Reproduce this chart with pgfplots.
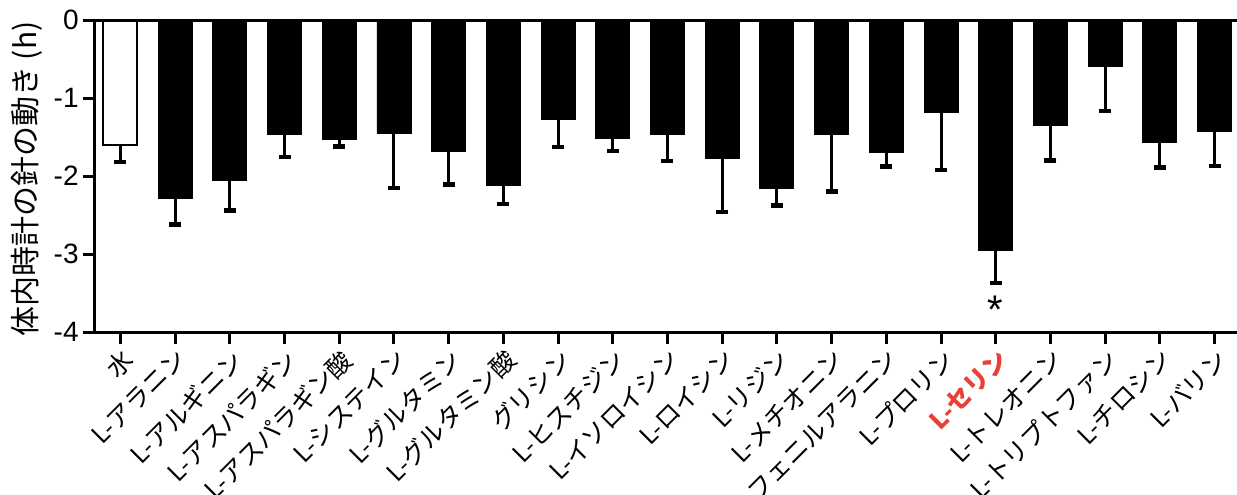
\documentclass[border=0pt]{standalone}
\usepackage{pgfplots}
\pgfplotsset{compat=1.18}
\usepackage{pgfplotstable}
\usepackage{fontspec}
\setmainfont{Liberation Sans}
\newfontfamily\jp{Noto Sans CJK JP}
\definecolor{serred}{RGB}{232,64,56}

\pgfplotstableread{
x y e
1 -2.29 0.33
2 -2.06 0.38
3 -1.47 0.29
4 -1.53 0.09
5 -1.45 0.70
6 -1.69 0.42
7 -2.12 0.24
8 -1.27 0.36
9 -1.52 0.16
10 -1.47 0.34
11 -1.77 0.69
12 -2.16 0.22
13 -1.47 0.73
14 -1.70 0.18
15 -1.18 0.74
16 -2.95 0.42
17 -1.35 0.45
18 -0.59 0.58
19 -1.57 0.32
20 -1.43 0.44
}\amino

\pgfplotstableread{
x y e
0 -1.60 0.22
}\water

\begin{document}
\begin{tikzpicture}
\begin{axis}[
  scale only axis, width=571pt, height=156pt,
  xmin=-0.464, xmax=20.41, ymin=-4, ymax=0,
  axis x line*=bottom, axis y line*=left,
  axis line style={line width=1.5pt},
  ytick={-4,-3,-2,-1,0},
  yticklabels={-4,-3,-2,-1,0},
  /pgf/number format/assume math mode=true,
  xtick={0,...,20},
  xticklabels={水,L-アラニン,L-アルギニン,L-アスパラギン,L-アスパラギン酸,L-システイン,L-グルタミン,L-グルタミン酸,グリシン,L-ヒスチジン,L-イソロイシン,L-ロイシン,L-リジン,L-メチオニン,L-フェニルアラニン,L-プロリン,{\color{serred}\bfseries L-セリン},L-トレオニン,L-トリプトファン,L-チロシン,L-バリン},
  x tick label style={rotate=45, anchor=north east, font=\jp\fontsize{12.5}{14}\selectfont, inner sep=1pt},
  y tick label style={font=\fontsize{14}{16}\selectfont, inner sep=2pt},
  tick style={line width=1.5pt, black},
  major tick length=6pt,
  tick align=outside,
  ylabel={\jp 体内時計の針の動き (h)},
  every axis y label/.style={at={(axis description cs:-0.0595,0.49)}, rotate=90, anchor=center, font=\fontsize{15}{17}\selectfont},
  clip=false,
]
\addplot[ybar, bar width=17pt, bar shift=0pt, fill=white, draw=black, line width=1pt,
  error bars/.cd, y dir=minus, y explicit,
  error bar style={line width=1.5pt, black},
  error mark options={rotate=90, mark size=3pt, line width=2.2pt, black}]
  table[x=x, y=y, y error=e] {\water};
\addplot[ybar, bar width=17pt, bar shift=0pt, fill=black, draw=black,
  error bars/.cd, y dir=minus, y explicit,
  error bar style={line width=1.5pt, black},
  error mark options={rotate=90, mark size=3pt, line width=2.2pt, black}]
  table[x=x, y=y, y error=e] {\amino};
\draw[line width=1.5pt] (rel axis cs:0,1) -- (rel axis cs:1,1);
\node[font=\fontsize{20}{20}\selectfont] at (axis cs:16,-3.72) {*};
\end{axis}
\pgfresetboundingbox
\path[use as bounding box] (-47.5pt,-81pt) rectangle (571pt,166pt);
\end{tikzpicture}
\end{document}
